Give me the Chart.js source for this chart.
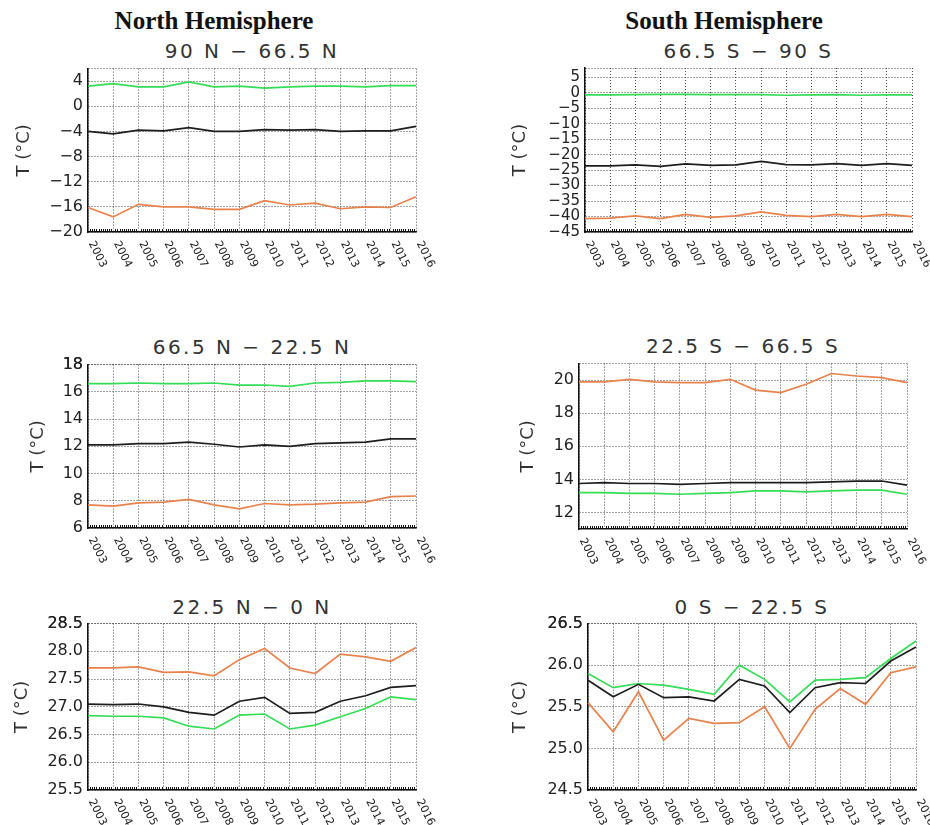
<!DOCTYPE html>
<html><head><meta charset="utf-8">
<script src="https://cdn.jsdelivr.net/npm/chart.js@4/dist/chart.umd.min.js"></script>
<style>
html,body{margin:0;padding:0;background:#fff;}
body{width:930px;height:825px;position:relative;overflow:hidden;}
.hdr{position:absolute;font-family:"Liberation Serif",serif;font-weight:bold;font-size:25px;line-height:1;color:#111;transform:translateX(-50%);white-space:nowrap;}
.ttl{position:absolute;font-family:"DejaVu Sans",sans-serif;font-size:20px;line-height:1;letter-spacing:2.5px;color:#333;transform:translateX(-50%);white-space:nowrap;}
canvas{position:absolute;}
</style></head><body>
<div class="hdr" style="left:214px;top:8px">North Hemisphere</div>
<div class="hdr" style="left:724px;top:8px">South Hemisphere</div>
<script>
// ---- categories ----
const years = ['2003','2004','2005','2006','2007','2008','2009','2010','2011','2012','2013','2014','2015','2016'];

// ---- 90 N - 66.5 N ----
const p1Green  = [3.2, 3.6, 3.1, 3.1, 3.9, 3.1, 3.2, 2.9, 3.1, 3.2, 3.2, 3.1, 3.3, 3.3];
const p1Black  = [-4.0, -4.4, -3.8, -3.9, -3.4, -4.0, -4.0, -3.7, -3.8, -3.7, -4.0, -3.9, -3.9, -3.2];
const p1Orange = [-16.1, -17.6, -15.6, -16.0, -16.0, -16.4, -16.4, -15.0, -15.7, -15.4, -16.3, -16.0, -16.1, -14.4];
const p1Ticks  = [-20, -16, -12, -8, -4, 0, 4];

// ---- 66.5 S - 90 S ----
const p2Green  = [-0.7, -0.7, -0.6, -0.5, -0.5, -0.6, -0.6, -0.6, -0.8, -0.7, -0.6, -0.8, -0.7, -0.7];
const p2Black  = [-23.6, -23.6, -23.3, -23.8, -23.0, -23.5, -23.3, -22.2, -23.2, -23.3, -22.9, -23.5, -22.9, -23.5];
const p2Orange = [-40.7, -40.5, -39.8, -40.7, -39.3, -40.3, -39.8, -38.5, -39.6, -40.0, -39.3, -40.0, -39.3, -40.0];
const p2Ticks  = [-45, -40, -35, -30, -25, -20, -15, -10, -5, 0, 5];

// ---- 66.5 N - 22.5 N ----
const p3Green  = [16.6, 16.6, 16.65, 16.6, 16.6, 16.65, 16.5, 16.5, 16.4, 16.65, 16.7, 16.8, 16.8, 16.75];
const p3Black  = [12.1, 12.1, 12.2, 12.2, 12.3, 12.15, 11.95, 12.1, 12.0, 12.2, 12.25, 12.3, 12.55, 12.55];
const p3Orange = [7.7, 7.6, 7.85, 7.9, 8.1, 7.7, 7.4, 7.8, 7.7, 7.75, 7.85, 7.9, 8.3, 8.35];
const p3Ticks  = [6, 8, 10, 12, 14, 16, 18];

// ---- 22.5 S - 66.5 S ----
const p4Green  = [13.2, 13.2, 13.15, 13.15, 13.1, 13.15, 13.2, 13.3, 13.3, 13.25, 13.3, 13.35, 13.35, 13.1];
const p4Black  = [13.75, 13.8, 13.75, 13.75, 13.7, 13.75, 13.8, 13.8, 13.8, 13.8, 13.85, 13.9, 13.9, 13.65];
const p4Orange = [19.9, 19.9, 20.05, 19.9, 19.85, 19.85, 20.05, 19.4, 19.25, 19.75, 20.4, 20.25, 20.15, 19.85];
const p4Ticks  = [12, 14, 16, 18, 20];

// ---- 22.5 N - 0 N ----
const p5Green  = [26.84, 26.83, 26.83, 26.8, 26.65, 26.6, 26.85, 26.87, 26.6, 26.67, 26.82, 26.97, 27.18, 27.13];
const p5Black  = [27.05, 27.04, 27.05, 27.0, 26.9, 26.85, 27.1, 27.17, 26.88, 26.9, 27.1, 27.2, 27.35, 27.38];
const p5Orange = [27.7, 27.7, 27.72, 27.62, 27.63, 27.56, 27.85, 28.05, 27.7, 27.6, 27.95, 27.9, 27.82, 28.07];
const p5Ticks  = [25.5, 26.0, 26.5, 27.0, 27.5, 28.0, 28.5];

// ---- 0 S - 22.5 S ----
const p6Green  = [25.9, 25.73, 25.78, 25.76, 25.71, 25.65, 26.0, 25.83, 25.56, 25.82, 25.83, 25.85, 26.08, 26.29];
const p6Black  = [25.82, 25.62, 25.77, 25.61, 25.62, 25.57, 25.83, 25.75, 25.43, 25.73, 25.79, 25.78, 26.05, 26.22];
const p6Orange = [25.55, 25.2, 25.68, 25.1, 25.36, 25.3, 25.31, 25.5, 25.0, 25.47, 25.72, 25.53, 25.91, 25.98];
const p6Ticks  = [24.5, 25.0, 25.5, 26.0, 26.5];

const GREEN = '#35dc58', BLACK = '#1e1e1e', ORANGE = '#e8824c';
const GRID = 'rgba(30,30,30,0.8)';
const FONT = '"DejaVu Sans", sans-serif';

const panels = [
  {title:'90 N \u2212 66.5 N',  col:0,   plot:[88,68,416,232],  min:-20, max:6,    ticks:p1Ticks, dec:0, ytx:24,  ttop:41, g:p1Green, k:p1Black, o:p1Orange, fs:16},
  {title:'66.5 S \u2212 90 S',  col:465, plot:[585,68,912,232], min:-45, max:8,    ticks:p2Ticks, dec:0, ytx:520, ttop:41, g:p2Green, k:p2Black, o:p2Orange, fs:15},
  {title:'66.5 N \u2212 22.5 N',col:0,   plot:[88,364,416,528], min:6,   max:18,   ticks:p3Ticks, dec:0, ytx:38,  ttop:337, g:p3Green, k:p3Black, o:p3Orange, fs:16},
  {title:'22.5 S \u2212 66.5 S',col:465, plot:[579,363,907,529],min:11,  max:21,   ticks:p4Ticks, dec:0, ytx:528, ttop:336, g:p4Green, k:p4Black, o:p4Orange, fs:16},
  {title:'22.5 N \u2212 0 N',   col:0,   plot:[88,623,416,790], min:25.5,max:28.5, ticks:p5Ticks, dec:1, ytx:22,  ttop:597, g:p5Green, k:p5Black, o:p5Orange, fs:16},
  {title:'0 S \u2212 22.5 S',   col:465, plot:[588,623,916,790],min:24.5,max:26.5, ticks:p6Ticks, dec:1, ytx:520, ttop:597, g:p6Green, k:p6Black, o:p6Orange, fs:16}
];

const fmt = (v, d) => { const s = Math.abs(v).toFixed(d); return v < 0 ? '\u2212' + s : s; };

const axisDecor = {
  id: 'axisDecor',
  afterDraw(chart) {
    const {ctx, chartArea: a, scales: {x}} = chart;
    ctx.save();
    ctx.strokeStyle = '#111';
    ctx.lineWidth = 1;
    ctx.beginPath();
    for (let i = 0; i < years.length - 1; i++) {
      for (let m = 1; m < 12; m++) {
        const px = Math.round(x.getPixelForValue(i + m / 12)) + 0.5;
        ctx.moveTo(px, a.bottom);
        ctx.lineTo(px, a.bottom - 3);
      }
    }
    ctx.stroke();
    ctx.font = '11px ' + FONT;
    ctx.fillStyle = '#222';
    ctx.textAlign = 'left';
    ctx.textBaseline = 'middle';
    years.forEach((lab, i) => {
      const px = x.getPixelForTick(i);
      ctx.save();
      ctx.translate(px + 3, a.bottom + 10);
      ctx.rotate(63 * Math.PI / 180);
      ctx.fillText(lab, 0, 0);
      ctx.restore();
    });
    ctx.restore();
  }
};

panels.forEach(p => {
  const t = document.createElement('div');
  t.className = 'ttl';
  t.textContent = p.title;
  t.style.left = ((p.plot[0] + p.plot[2]) / 2) + 'px';
  t.style.top = p.ttop + 'px';
  document.body.appendChild(t);

  const cw = 465, padTop = 14, xH = 52;
  const ch = (p.plot[3] - p.plot[1]) + padTop + xH;
  const cv = document.createElement('canvas');
  cv.width = cw; cv.height = ch;
  cv.style.left = p.col + 'px';
  cv.style.top = (p.plot[1] - padTop) + 'px';
  cv.style.width = cw + 'px'; cv.style.height = ch + 'px';
  document.body.appendChild(cv);

  const half = 18 * 1.2 / 2;
  const padLeft = p.ytx - p.col - half;
  const yW = p.plot[0] - p.col - padLeft;
  const padRight = p.col + cw - p.plot[2];

  const ds = (data, color) => ({data, borderColor: color, backgroundColor: color, borderWidth: 1.7, pointRadius: 0, tension: 0, fill: false});

  new Chart(cv, {
    type: 'line',
    data: {labels: years, datasets: [ds(p.o, ORANGE), ds(p.k, BLACK), ds(p.g, GREEN)]},
    options: {
      responsive: false, animation: false, devicePixelRatio: 1,
      layout: {padding: {top: padTop, left: padLeft, right: padRight, bottom: 0}, autoPadding: false},
      plugins: {legend: {display: false}, tooltip: {enabled: false}, title: {display: false}},
      scales: {
        x: {
          offset: false,
          grid: {color: GRID, lineWidth: 1, drawTicks: false, tickLength: 0},
          border: {display: true, color: '#111', width: 1.5, dash: [1, 2]},
          ticks: {display: false},
          afterFit: s => { s.height = xH; }
        },
        y: {
          min: p.min, max: p.max,
          afterBuildTicks: s => { s.ticks = [...p.ticks, p.max].map(v => ({value: v})); },
          grid: {color: GRID, lineWidth: 1, drawTicks: false, tickLength: 0},
          border: {display: true, color: '#111', width: 1.5, dash: [1, 2]},
          ticks: {autoSkip: false, padding: 5, color: '#222', font: {family: FONT, size: p.fs},
                  callback: v => p.ticks.includes(v) ? fmt(v, p.dec) : ''},
          title: {display: true, text: 'T (\u00B0C)', color: '#333', font: {family: FONT, size: 18}, padding: 0},
          afterFit: s => { s.width = yW; }
        }
      }
    },
    plugins: [axisDecor]
  });
});
</script>
</body></html>
